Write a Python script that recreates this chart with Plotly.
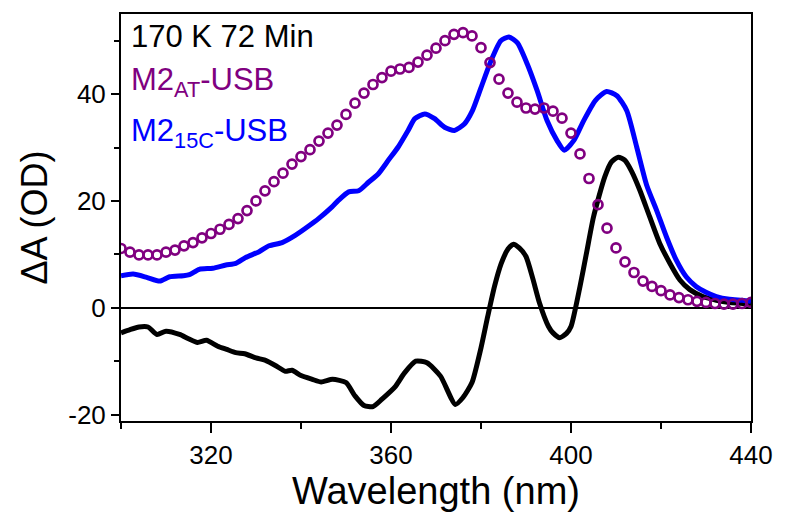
import plotly.graph_objects as go

# ---- data ----
wl_at = [300, 302, 304, 306, 308, 310, 312, 314, 316, 318, 320, 322, 324, 326, 328,
         330, 332, 334, 336, 338, 340, 342, 344, 346, 348, 350, 352, 354, 356, 358,
         360, 362, 364, 366, 368, 370, 372, 374, 376, 378, 380, 382, 384, 386, 388,
         390, 392, 394, 396, 398, 400, 402, 404, 406, 408, 410, 412, 414, 416, 418,
         420, 422, 424, 426, 428, 430, 432, 434, 436, 438, 440]
dA_at = [11.1, 10.4, 9.9, 9.9, 9.9, 10.4, 10.8, 11.6, 12.2, 13.1, 13.9, 14.7, 15.6, 16.7, 18.2,
         20.0, 21.9, 23.6, 25.2, 26.9, 28.3, 29.6, 31.2, 32.7, 34.2, 36.2, 38.3, 40.2, 41.8, 43.1,
         44.3, 44.7, 45.0, 46.0, 47.3, 48.6, 50.0, 51.2, 51.5, 50.9, 48.7, 45.9, 42.8, 40.2, 38.5,
         37.4, 37.2, 37.4, 36.8, 35.5, 32.7, 28.8, 24.2, 19.3, 14.9, 11.2, 8.6, 6.6, 5.0, 4.0,
         3.2, 2.4, 1.9, 1.5, 1.2, 1.0, 0.8, 0.7, 0.7, 0.8, 1.0]

wl_15c = [300, 302.7, 305.7, 308.6, 310.8, 313.8, 315.2, 317.4, 320.4, 323.3, 325.5, 327.7,
          330.7, 332.9, 335.8, 338.8, 341.7, 343.9, 346.9, 348.3, 350.6, 352.8, 355, 357.2,
          359.4, 361.6, 363.8, 365.3, 367.5, 369.7, 371.9, 374.1, 376.3, 378.1, 380, 382.2,
          384.4, 386.2, 388.1, 390.3, 392.5, 394.7, 396.9, 398.5, 400.6, 402.8, 405.4, 407.9,
          410.2, 412.4, 414.6, 416.8, 419, 421.2, 423.4, 425.6, 427.8, 430, 432.3, 435.2,
          438.1, 440]
dA_15c = [6.0, 6.3, 5.7, 5.0, 5.8, 6.0, 6.2, 7.2, 7.4, 8.0, 8.3, 9.4,
          10.5, 11.6, 12.2, 13.6, 15.3, 16.7, 18.9, 20.1, 21.7, 21.9, 23.5, 25.1,
          27.6, 30.1, 33.2, 35.4, 36.3, 35.4, 33.8, 33.2, 34.4, 36.9, 41.2, 46.2,
          50.0, 50.7, 49.6, 45.6, 40.6, 35.0, 31.3, 29.5, 31.3, 35.0, 38.8, 40.5,
          39.7, 36.9, 30.1, 23.0, 18.3, 13.3, 8.9, 5.8, 4.0, 2.9, 2.1, 1.6,
          1.4, 1.2]

wl_diff = [300, 302, 304, 306, 308, 310, 313, 315, 317, 319, 321.5, 323.5, 325.5, 327.5,
           330, 332, 334.5, 336.5, 338, 340, 342.5, 344.5, 347, 350, 352, 354, 356, 358,
           361, 363, 365.5, 368, 371, 374.3, 376, 378, 380, 381.5, 383, 384.5, 386, 387.2,
           388.5, 390, 391.5, 393, 395, 396, 397.5, 399, 400, 402, 403.5, 405, 407.5, 409,
           410.5, 412, 413.5, 415.3, 417.5, 419.7, 422, 424.2, 426.4, 429.3, 432.3, 435.2, 440]
dA_diff = [-4.7, -4.1, -3.6, -3.6, -5.0, -4.4, -5.0, -5.8, -6.5, -6.1, -7.2, -7.8, -8.4, -8.6,
           -9.4, -9.8, -10.9, -11.9, -11.7, -12.7, -13.4, -13.9, -13.4, -14.0, -16.5, -18.3, -18.5, -17.1,
           -14.7, -12.2, -10.0, -10.3, -12.8, -18.1, -16.8, -14.0, -7.5, -1.6, 4.0, 8.3, 11.0, 11.9,
           11.2, 9.6, 5.5, 0.9, -3.5, -4.7, -5.6, -4.8, -3.5, 4.0, 10.5, 17.0, 24.5, 27.3,
           28.2, 27.6, 25.5, 22.0, 17.0, 12.1, 8.3, 5.2, 3.4, 2.1, 1.4, 1.0, 0.75]

x_ticks = [320, 360, 400, 440]
x_labels = ["320", "360", "400", "440"]
y_ticks = [-20, 0, 20, 40]
y_labels = ["-20", "0", "20", "40"]

FONT = "Liberation Sans, Arial, Helvetica, sans-serif"
PURPLE = "#800080"
BLUE = "#0000FF"

fig = go.Figure()
fig.add_trace(go.Scatter(x=wl_diff, y=dA_diff, mode="lines",
                         line=dict(color="black", width=5, shape="spline", smoothing=0.6),
                         showlegend=False))
fig.add_trace(go.Scatter(x=wl_15c, y=dA_15c, mode="lines",
                         line=dict(color=BLUE, width=5, shape="spline", smoothing=0.6),
                         showlegend=False))
fig.add_trace(go.Scatter(x=wl_at, y=dA_at, mode="markers",
                         marker=dict(symbol="circle-open", size=9, color=PURPLE,
                                     line=dict(color=PURPLE, width=2.7)),
                         showlegend=False))

fig.update_xaxes(range=[300, 440], tickvals=x_ticks, ticktext=x_labels, ticks="outside",
                 ticklen=10, tickwidth=1.5, tickcolor="black", showline=True,
                 linecolor="black", linewidth=2, mirror=True, showgrid=False, zeroline=False,
                 tickfont=dict(family=FONT, size=26, color="black"),
                 minor=dict(ticks="outside", ticklen=6, tickwidth=1.5, tickcolor="black",
                            tickvals=[300, 340, 380, 420]),
                 title=dict(text="Wavelength (nm)", standoff=4,
                            font=dict(family=FONT, size=38, color="black")))
fig.update_yaxes(range=[-21.2, 55], tickvals=y_ticks, ticktext=y_labels, ticks="outside",
                 ticklen=8, tickwidth=1.5, tickcolor="black", showline=True,
                 linecolor="black", linewidth=2, mirror=True, showgrid=False,
                 zeroline=True, zerolinecolor="black", zerolinewidth=2,
                 tickfont=dict(family=FONT, size=26, color="black"),
                 minor=dict(ticks="outside", ticklen=5, tickwidth=1.5, tickcolor="black",
                            tickvals=[-10, 10, 30, 50]),
                 title=dict(text="ΔA (OD)", standoff=10,
                            font=dict(family=FONT, size=36, color="black")))

fig.add_annotation(xref="paper", yref="paper", x=0.013, y=0.944, xanchor="left",
                   yanchor="middle", showarrow=False, text="170 K 72 Min",
                   font=dict(family=FONT, size=31, color="black"))
fig.add_annotation(xref="paper", yref="paper", x=0.013, y=0.832, xanchor="left",
                   yanchor="middle", showarrow=False, text="M2<sub>AT</sub>-USB",
                   font=dict(family=FONT, size=31, color=PURPLE))
fig.add_annotation(xref="paper", yref="paper", x=0.013, y=0.708, xanchor="left",
                   yanchor="middle", showarrow=False, text="M2<sub>15C</sub>-USB",
                   font=dict(family=FONT, size=31, color=BLUE))

fig.update_layout(width=785, height=518, margin=dict(l=121, r=30, t=13, b=97),
                  plot_bgcolor="white", paper_bgcolor="white",
                  font=dict(family=FONT, color="black"))

fig.write_html("out.html")
